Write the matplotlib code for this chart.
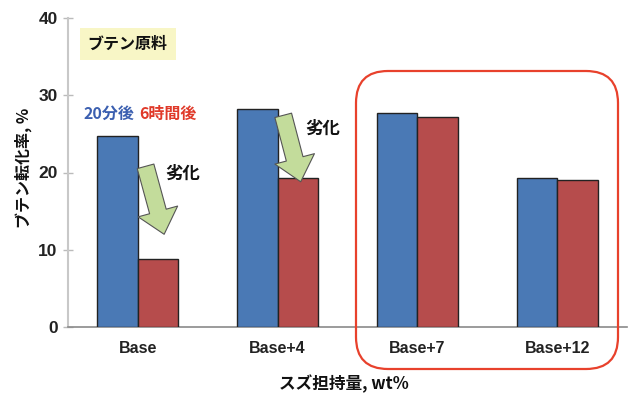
import matplotlib.pyplot as plt
from matplotlib.patches import FancyBboxPatch
import numpy as np

# Butene conversion (%) vs. tin loading, after 20 min and after 6 h
categories = ["Base", "Base+4", "Base+7", "Base+12"]
conv_20min = [24.7, 28.2, 27.7, 19.3]
conv_6h = [8.8, 19.3, 27.2, 19.0]

yticks = [0, 10, 20, 30, 40]

BLUE = "#4a79b5"
RED = "#b64c4c"
GREEN = "#c3dc9b"

latin = ["Liberation Sans", "Noto Sans CJK JP"]
jp = ["Noto Sans CJK JP", "Liberation Sans"]

fig = plt.figure(figsize=(6.28, 3.96), dpi=100)
ax = fig.add_axes([68 / 628, 1 - 327 / 396, 559 / 628, 309 / 396])

x = np.arange(len(categories))
w = 0.29
ax.bar(x - w / 2, conv_20min, w, color=BLUE, edgecolor="#222222", linewidth=1.0, zorder=3)
ax.bar(x + w / 2, conv_6h, w, color=RED, edgecolor="#222222", linewidth=1.0, zorder=3)

ax.set_xlim(-0.5, 3.5)
ax.set_ylim(0, 40)
ax.set_yticks(yticks)
ax.set_yticklabels([str(t) for t in yticks], family=latin, fontsize=12.5,
                   fontweight="bold", color="#222222")
ax.set_xticks(x)
ax.set_xticklabels(categories, family=latin, fontsize=11.5, fontweight="bold",
                   color="#222222")
ax.tick_params(axis="x", length=0, pad=10)
ax.tick_params(axis="y", direction="inout", length=7, width=1, color="#bbbbbb", pad=4)

for s in ["top", "right"]:
    ax.spines[s].set_visible(False)
ax.spines["left"].set_color("#c8c8c8")
ax.spines["left"].set_linewidth(1.5)
ax.spines["bottom"].set_color("#8a8a8a")
ax.spines["bottom"].set_linewidth(1.2)

# feed label
ax.text(0.035, 0.915, "ブテン原料", transform=ax.transAxes, family=jp, fontsize=11.5,
        fontweight="bold", color="#111111", va="center", ha="left",
        bbox=dict(boxstyle="square,pad=0.5", facecolor="#f8f6c6", edgecolor="none"))

# series legend text
ax.text(0.027, 0.69, "20分後", transform=ax.transAxes, family=jp, fontsize=11.5,
        fontweight="bold", color="#3b5fb0", va="center", ha="left")
ax.text(0.128, 0.69, "6時間後", transform=ax.transAxes, family=jp, fontsize=11.5,
        fontweight="bold", color="#e03a2a", va="center", ha="left")

# deactivation arrows
arrow_style = "simple,head_width=1.9,head_length=1.1,tail_width=0.8"
for (x0, y0), (x1, y1), (tx, ty) in [
    ((0.055, 20.8), (0.188, 12.0), (0.32, 19.8)),
    ((1.04, 27.4), (1.165, 18.8), (1.32, 25.6)),
]:
    ax.annotate("", xy=(x1, y1), xytext=(x0, y0), zorder=5,
                arrowprops=dict(arrowstyle=arrow_style, mutation_scale=15.5,
                                facecolor=GREEN, edgecolor="#555555", linewidth=0.8,
                                shrinkA=0, shrinkB=0))
    ax.text(tx, ty, "劣化", family=jp, fontsize=12.5, fontweight="bold",
            color="#111111", ha="center", va="center", zorder=6)

# highlight box around the higher tin loadings
box = FancyBboxPatch((3.56, 0.27), 2.62, 2.98, boxstyle="round,pad=0,rounding_size=0.32",
                     transform=fig.dpi_scale_trans, facecolor="none",
                     edgecolor="#e8412c", linewidth=1.6, zorder=10)
fig.add_artist(box)

fig.text(23 / 628, 1 - 168 / 396, "ブテン転化率, %", rotation=90, family=jp,
         fontsize=11.5, fontweight="bold", color="#111111", ha="center", va="center")
fig.text(344 / 628, 1 - 384 / 396, "スズ担持量, wt%", family=jp, fontsize=12,
         fontweight="bold", color="#111111", ha="center", va="center")

fig.savefig("out.png", dpi=100, facecolor="white")
